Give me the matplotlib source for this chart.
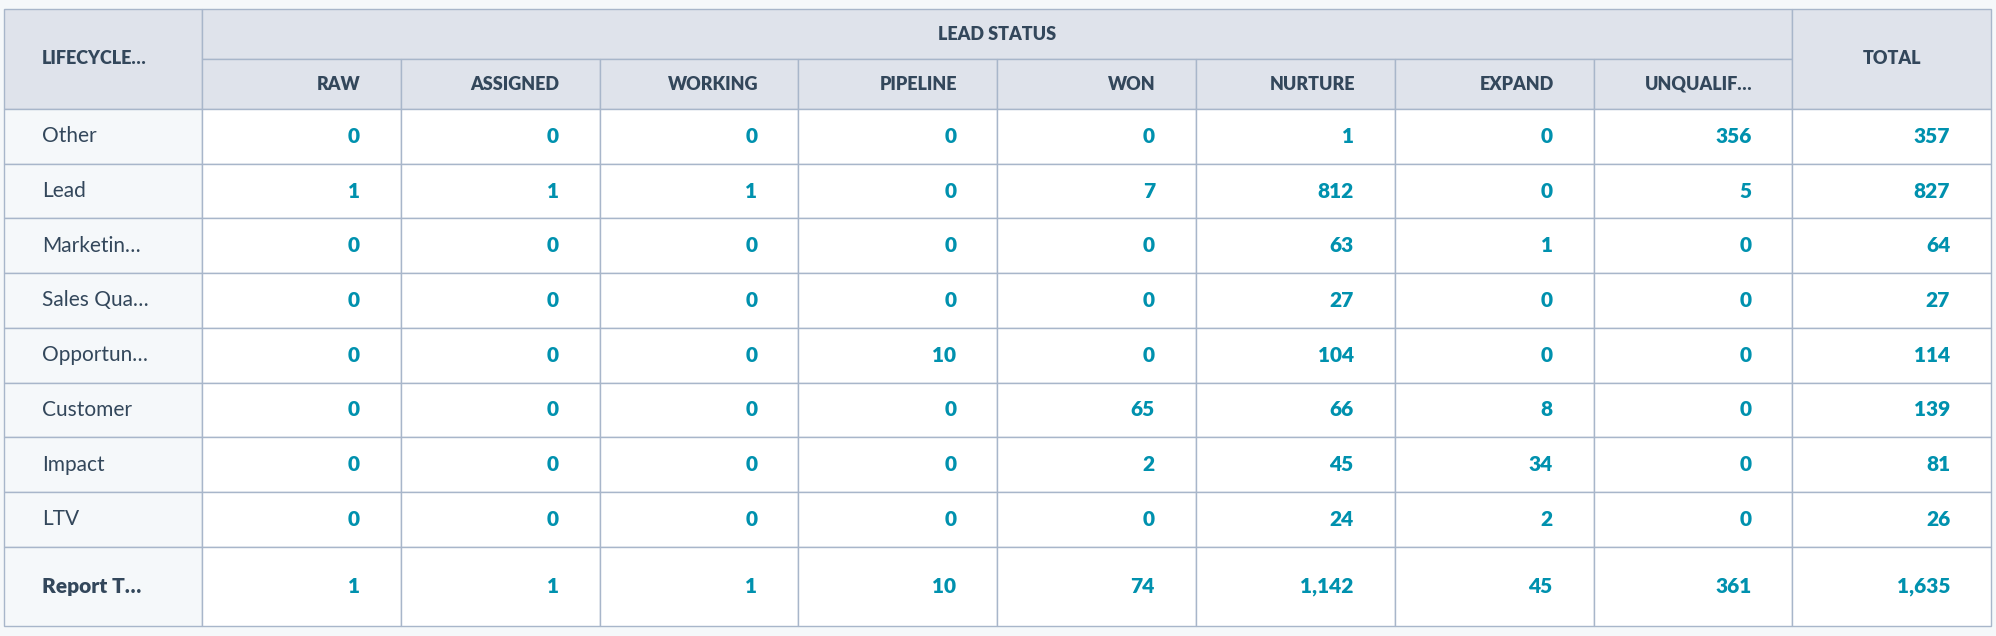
import matplotlib
matplotlib.use("Agg")
import matplotlib.pyplot as plt
from matplotlib.patches import Rectangle

ROW_LABELS = ["Other", "Lead", "Marketin…", "Sales Qua…", "Opportun…",
              "Customer", "Impact", "LTV"]
TOTAL_LABEL = "Report T…"
COL_LABELS = ["RAW", "ASSIGNED", "WORKING", "PIPELINE", "WON", "NURTURE",
              "EXPAND", "UNQUALIF…"]
VALUES = [
    [0, 0, 0, 0, 0, 1, 0, 356],
    [1, 1, 1, 0, 7, 812, 0, 5],
    [0, 0, 0, 0, 0, 63, 1, 0],
    [0, 0, 0, 0, 0, 27, 0, 0],
    [0, 0, 0, 10, 0, 104, 0, 0],
    [0, 0, 0, 0, 65, 66, 8, 0],
    [0, 0, 0, 0, 2, 45, 34, 0],
    [0, 0, 0, 0, 0, 24, 2, 0],
]
ROW_TOTALS = [357, 827, 64, 27, 114, 139, 81, 26]
COL_TOTALS = [1, 1, 1, 10, 74, 1142, 45, 361]
GRAND_TOTAL = 1635

BG = "#f5f8fa"
HEAD = "#dfe3eb"
BORDER = "#a8b6ca"
DARK = "#33475b"
TEAL = "#0091ae"
FONT = "Lato"

W, H = 1996, 636
fig = plt.figure(figsize=(W / 100, H / 100), dpi=100)
fig.patch.set_facecolor(BG)
ax = fig.add_axes([0, 0, 1, 1])
ax.set_xlim(0, W)
ax.set_ylim(H, 0)
ax.axis("off")

left, first_w, col_w = 4, 198, 198.8
top, mid, head_bot, row_h = 9, 59, 109, 54.7
n = len(ROW_LABELS)
tot_top = head_bot + n * row_h
bottom = 626
xs = [left + first_w + i * col_w for i in range(10)]


def cell(x0, y0, w, h, fc):
    ax.add_patch(Rectangle((x0, y0), w, h, facecolor=fc, edgecolor=BORDER, lw=1.0))


# header
cell(left, top, first_w, head_bot - top, HEAD)
cell(xs[0], top, col_w * 8, mid - top, HEAD)
for i in range(8):
    cell(xs[i], mid, col_w, head_bot - mid, HEAD)
cell(xs[8], top, col_w, head_bot - top, HEAD)
hkw = dict(fontsize=13, fontweight="heavy", color=DARK, va="center", family=FONT)
ax.text(left + 38, (top + head_bot) / 2, "LIFECYCLE…", ha="left", **hkw)
ax.text(xs[0] + col_w * 4, (top + mid) / 2, "LEAD STATUS", ha="center", **hkw)
for i, lab in enumerate(COL_LABELS):
    ax.text(xs[i + 1] - 40, (mid + head_bot) / 2, lab, ha="right", **hkw)
ax.text(xs[8] + col_w / 2, (top + head_bot) / 2, "TOTAL", ha="center", **hkw)

# body
for r in range(n + 1):
    y0 = head_bot + r * row_h
    h = row_h if r < n else bottom - tot_top
    cy = y0 + h / 2
    cell(left, y0, first_w, h, BG)
    for c in range(9):
        cell(xs[c], y0, col_w, h, "white")
    if r < n:
        label, vals, tot = ROW_LABELS[r], VALUES[r], ROW_TOTALS[r]
        ax.text(left + 38, cy, label, fontsize=15, color=DARK, va="center",
                ha="left", family=FONT)
    else:
        label, vals, tot = TOTAL_LABEL, COL_TOTALS, GRAND_TOTAL
        ax.text(left + 38, cy, label, fontsize=15, fontweight="heavy", color=DARK,
                va="center", ha="left", family=FONT)
    for c, v in enumerate(list(vals) + [tot]):
        ax.text(xs[c + 1] - 41, cy, f"{v:,}", fontsize=15, fontweight="heavy",
                color=TEAL, va="center", ha="right", family=FONT)

fig.savefig("out.png", dpi=100, facecolor=BG)
